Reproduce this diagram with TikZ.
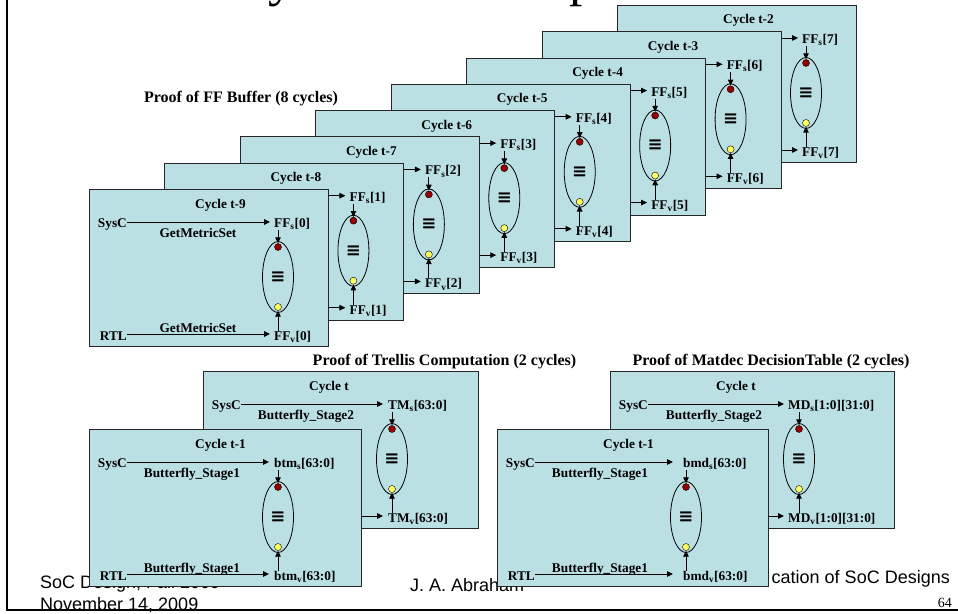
\documentclass[tikz,border=0pt]{standalone}
\usepackage{fontspec}
\setmainfont{Liberation Serif}
\newfontfamily\arialf{Liberation Sans}
\newfontfamily\dejaf{DejaVu Sans}
\usetikzlibrary{arrows.meta,calc,shapes.geometric}
\definecolor{boxfill}{RGB}{187,224,227}
\definecolor{dotred}{RGB}{150,0,0}
\definecolor{dotyel}{RGB}{255,255,100}
\tikzset{
  cycbox/.style={draw=black!85, line width=0.9pt, fill=boxfill, inner sep=0pt},
  lbl/.style={font=\fontsize{13.3}{15}\selectfont\bfseries, inner sep=0pt},
  grptitle/.style={font=\fontsize{16}{18}\selectfont\bfseries, inner sep=0pt},
  footer/.style={font=\fontsize{18}{20}\selectfont\arialf, inner sep=0pt},
  pgnum/.style={font=\fontsize{14}{16}\selectfont, inner sep=0pt},
  titlefrag/.style={font=\fontsize{53}{60}\selectfont, inner sep=0pt},
  ellshape/.style={ellipse, draw=black, line width=0.8pt, minimum width=31pt, minimum height=71pt, inner sep=0pt},
  rdot/.style={circle, draw=black, line width=0.4pt, fill=dotred, minimum size=7pt, inner sep=0pt},
  ydot/.style={circle, draw=black, line width=0.4pt, fill=dotyel, minimum size=7pt, inner sep=0pt},
  sig/.style={line width=0.9pt, -{Triangle[length=6pt,width=5.5pt]}},
  eqsign/.style={font=\fontsize{18}{18}\selectfont\dejaf\bfseries, inner sep=0pt},
}
\newcommand\labx{185}
% #1 name #2 X #3 Y #4 W #5 title #6 top label #7 bottom label #8 gap
\newcommand\cycpanel[8]{%
 \begin{scope}[shift={(#2,#3)}]
  \node[cycbox, minimum width=#4pt, minimum height=157pt, anchor=north west] (#1box) at (0,0) {};
  \node[lbl, anchor=base west] (#1title) at (106,19) {#5};
  \node[ellshape] (#1ell) at (189,88) {};
  \node[eqsign] (#1eq) at (189,88) {≡};
  \node[rdot] (#1rd) at (189,58) {};
  \node[ydot] (#1yd) at (189,118) {};
  \coordinate (#1in) at (38,33);
  \coordinate (#1inv) at (38,145);
  \node[lbl, anchor=base west] (#1top) at (\labx,38.5) {#6};
  \node[lbl, anchor=base west] (#1bot) at (\labx,151.5) {#7};
  \draw[sig, shorten >=#8pt] (#1in) -- (#1in -| #1top.west);
  \draw[sig, shorten >=#8pt] (#1inv) -- (#1inv -| #1bot.west);
  \draw[sig] (#1ell.north |- #1top.south) -- (#1rd.north);
  \draw[sig] (#1ell.south |- #1bot.north) -- (#1yd.south);
 \end{scope}}
% #1 name #2 X #3 Y #4 function #5 function centre x
\newcommand\topextra[5]{%
 \begin{scope}[shift={(#2,#3)}]
  \node[lbl, anchor=base east] (#1sysc) at (38,38.5) {SysC};
  \node[lbl, anchor=base] (#1tf) at (#5,48.5) {#4};
 \end{scope}}
\newcommand\botextra[5]{%
 \begin{scope}[shift={(#2,#3)}]
  \node[lbl, anchor=base east] (#1rtl) at (38,151.5) {RTL};
  \node[lbl, anchor=base] (#1bf) at (#5,143.5) {#4};
 \end{scope}}
\begin{document}
\begin{tikzpicture}[x=1pt,y=-1pt]
\useasboundingbox (0,0) rectangle (958,613);
% title fragments (cut off at the top)
\node[titlefrag, anchor=base west] (ty) at (268,-5) {y};
\node[titlefrag, anchor=base west] (tp) at (569,-5) {p};
% footer
\node[footer, anchor=base west] (f1) at (40,588) {SoC Design, Fall 2009};
\node[footer, anchor=base west] (f2) at (40,610) {November 14, 2009};
\node[footer, anchor=base west] (f3) at (410,591) {J. A. Abraham};
\node[footer, anchor=base east] (f4) at (950,583) {cation of SoC Designs};
\node[pgnum, anchor=base east] (f5) at (952,607) {64};
% FF buffer group
\node[grptitle, anchor=base] (gff) at (241,102) {Proof of FF Buffer (8 cycles)};
\foreach \i in {7,6,...,0}{
  \pgfmathsetmacro\X{89+75.43*\i}
  \pgfmathsetmacro\Y{189-26.29*\i}
  \pgfmathtruncatemacro\k{9-\i}
  \cycpanel{ff\i}{\X}{\Y}{239}{Cycle t-\k}{FF\textsubscript{s}[\i]}{FF\textsubscript{v}[\i]}{4}
}
\topextra{ff0}{89}{189}{GetMetricSet}{109}
\botextra{ff0}{89}{189}{GetMetricSet}{109}
% Trellis group
\node[grptitle, anchor=base] (gtr) at (444.5,365) {Proof of Trellis Computation (2 cycles)};
\cycpanel{trb}{203}{371}{275}{Cycle t}{TM\textsubscript{s}[63:0]}{TM\textsubscript{v}[63:0]}{5}
\topextra{trb}{203}{371}{Butterfly\_Stage2}{103}
\cycpanel{trf}{89}{429}{272}{Cycle t-1}{btm\textsubscript{s}[63:0]}{btm\textsubscript{v}[63:0]}{5}
\topextra{trf}{89}{429}{Butterfly\_Stage1}{103}
\botextra{trf}{89}{429}{Butterfly\_Stage1}{103}
% Matdec group
\node[grptitle, anchor=base] (gmd) at (771,365) {Proof of Matdec DecisionTable (2 cycles)};
\renewcommand\labx{178}
\cycpanel{mdb}{610}{371}{284}{Cycle t}{MD\textsubscript{s}[1:0][31:0]}{MD\textsubscript{v}[1:0][31:0]}{4}
\topextra{mdb}{610}{371}{Butterfly\_Stage2}{104}
\renewcommand\labx{186}
\cycpanel{mdf}{497}{429}{271}{Cycle t-1}{bmd\textsubscript{s}[63:0]}{bmd\textsubscript{v}[63:0]}{10}
\topextra{mdf}{497}{429}{Butterfly\_Stage1}{103}
\botextra{mdf}{497}{429}{Butterfly\_Stage1}{103}
% slide frame
\draw[line width=2.3pt] (7.2,0) -- (7.2,610) -- (958,610);
\end{tikzpicture}
\end{document}
